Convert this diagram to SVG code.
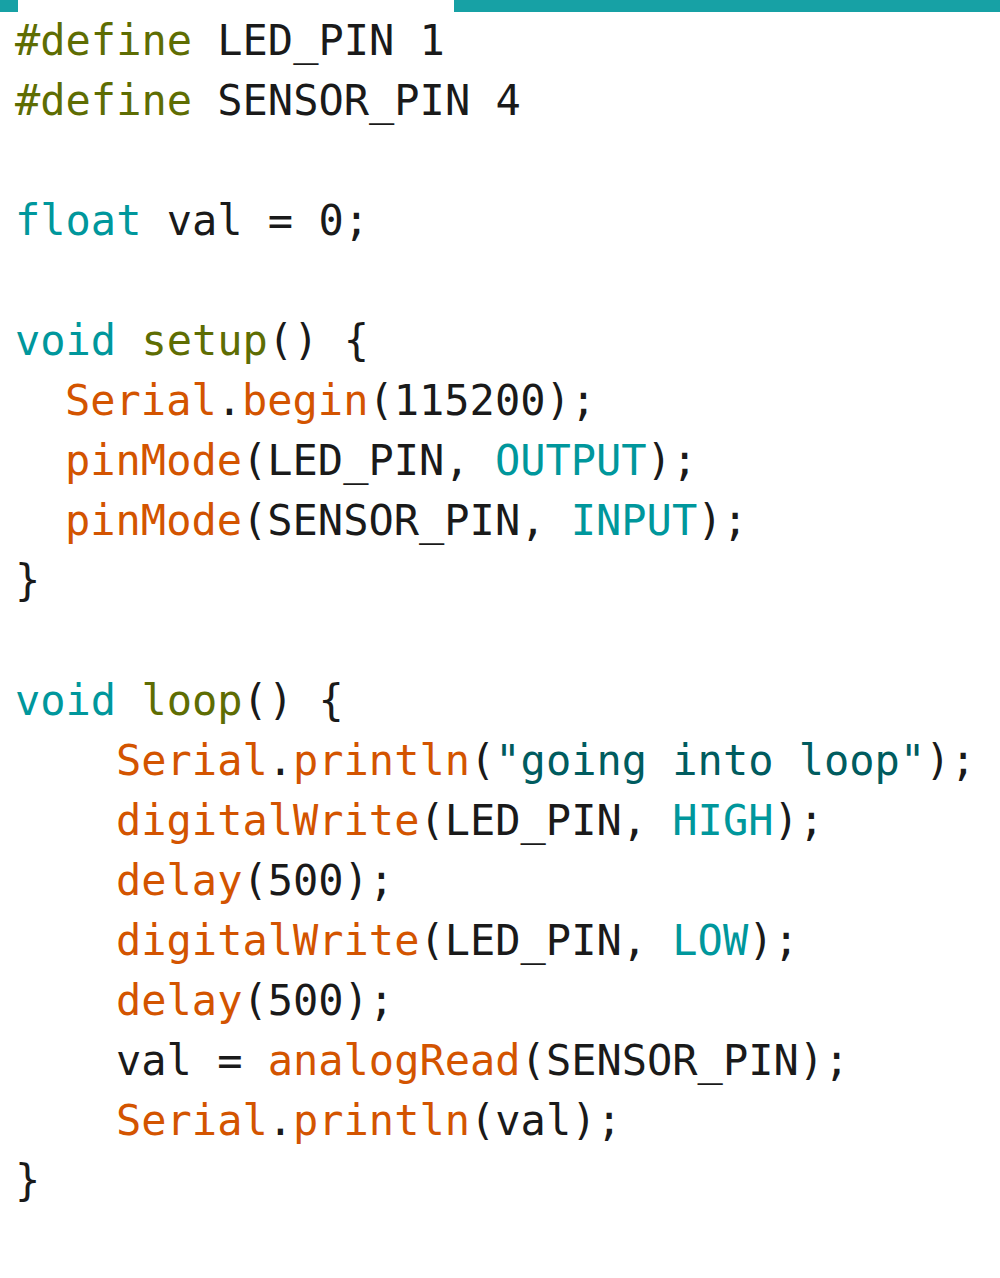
<svg xmlns="http://www.w3.org/2000/svg" width="1000" height="1278" viewBox="0 0 1000 1278">
<style>
text{font-family:"DejaVu Sans Mono","Liberation Mono",monospace;font-size:42px;fill:#1a1a1a;white-space:pre}
.pp{fill:#5E6D03}
.kw{fill:#00979C}
.fn{fill:#D35400}
.st{fill:#005C5F}
.sf{fill:#5E6D03}
</style>
<rect width="1000" height="1278" fill="#ffffff"/>
<g id="tabs">
<rect x="0" y="0" width="18" height="12" fill="#17A1A5"/>
<rect x="454" y="0" width="546" height="12" fill="#17A1A5"/>
</g>
<g id="code" xml:space="preserve">
<text x="15" y="55"><tspan class="pp">#define</tspan> LED_PIN 1</text>
<text x="15" y="115"><tspan class="pp">#define</tspan> SENSOR_PIN 4</text>
<text x="15" y="235"><tspan class="kw">float</tspan> val = 0;</text>
<text x="15" y="355"><tspan class="kw">void</tspan> <tspan class="sf">setup</tspan>() {</text>
<text x="65" y="415"><tspan class="fn">Serial</tspan>.<tspan class="fn">begin</tspan>(115200);</text>
<text x="65" y="475"><tspan class="fn">pinMode</tspan>(LED_PIN, <tspan class="kw">OUTPUT</tspan>);</text>
<text x="65" y="535"><tspan class="fn">pinMode</tspan>(SENSOR_PIN, <tspan class="kw">INPUT</tspan>);</text>
<text x="15" y="595">}</text>
<text x="15" y="715"><tspan class="kw">void</tspan> <tspan class="sf">loop</tspan>() {</text>
<text x="116" y="775"><tspan class="fn">Serial</tspan>.<tspan class="fn">println</tspan>(<tspan class="st">"going into loop"</tspan>);</text>
<text x="116" y="835"><tspan class="fn">digitalWrite</tspan>(LED_PIN, <tspan class="kw">HIGH</tspan>);</text>
<text x="116" y="895"><tspan class="fn">delay</tspan>(500);</text>
<text x="116" y="955"><tspan class="fn">digitalWrite</tspan>(LED_PIN, <tspan class="kw">LOW</tspan>);</text>
<text x="116" y="1015"><tspan class="fn">delay</tspan>(500);</text>
<text x="116" y="1075">val = <tspan class="fn">analogRead</tspan>(SENSOR_PIN);</text>
<text x="116" y="1135"><tspan class="fn">Serial</tspan>.<tspan class="fn">println</tspan>(val);</text>
<text x="15" y="1195">}</text>
</g>
</svg>
